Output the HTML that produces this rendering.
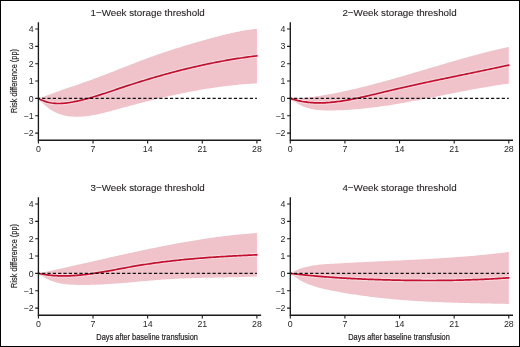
<!DOCTYPE html>
<html><head><meta charset="utf-8"><style>
html,body{margin:0;padding:0;background:#fff;}
body{width:520px;height:347px;overflow:hidden;}
svg{display:block;will-change:transform;}
text{font-family:"Liberation Sans",sans-serif;fill:#231f20;}
</style></head><body>
<svg width="520" height="347" viewBox="0 0 520 347">
<rect x="0" y="0" width="520" height="347" fill="#fff"/>

<path d="M38.4 98.40L39.9 97.92L41.4 97.42L42.9 96.91L44.4 96.39L45.9 95.86L47.4 95.32L48.9 94.77L50.4 94.22L51.9 93.67L53.4 93.11L54.9 92.55L56.4 91.99L57.9 91.44L59.4 90.88L60.9 90.34L62.4 89.79L63.9 89.26L65.4 88.73L66.9 88.21L68.4 87.69L69.9 87.18L71.4 86.67L72.9 86.16L74.4 85.66L75.9 85.15L77.4 84.64L78.9 84.14L80.4 83.63L81.9 83.11L83.4 82.60L84.9 82.08L86.4 81.55L87.9 81.02L89.4 80.48L90.9 79.94L92.4 79.40L93.9 78.84L95.4 78.29L96.9 77.73L98.4 77.17L99.9 76.60L101.4 76.03L102.9 75.46L104.4 74.88L105.9 74.30L107.4 73.72L108.9 73.14L110.4 72.55L111.9 71.97L113.4 71.38L114.9 70.79L116.4 70.20L117.9 69.61L119.4 69.02L120.9 68.43L122.4 67.84L123.9 67.25L125.4 66.66L126.9 66.07L128.4 65.48L129.9 64.89L131.4 64.31L132.9 63.73L134.4 63.15L135.9 62.57L137.4 61.99L138.9 61.42L140.4 60.85L141.9 60.28L143.4 59.72L144.9 59.16L146.4 58.61L147.9 58.06L149.4 57.51L150.9 56.97L152.4 56.43L153.9 55.90L155.4 55.37L156.9 54.84L158.4 54.32L159.9 53.81L161.4 53.29L162.9 52.78L164.4 52.28L165.9 51.78L167.4 51.28L168.9 50.78L170.4 50.29L171.9 49.81L173.4 49.32L174.9 48.84L176.4 48.37L177.9 47.89L179.4 47.42L180.9 46.96L182.4 46.49L183.9 46.03L185.4 45.58L186.9 45.12L188.4 44.67L189.9 44.23L191.4 43.78L192.9 43.34L194.4 42.90L195.9 42.47L197.4 42.03L198.9 41.60L200.4 41.18L201.9 40.75L203.4 40.33L204.9 39.91L206.4 39.49L207.9 39.08L209.4 38.67L210.9 38.26L212.4 37.85L213.9 37.45L215.4 37.05L216.9 36.65L218.4 36.26L219.9 35.87L221.4 35.49L222.9 35.11L224.4 34.73L225.9 34.37L227.4 34.01L228.9 33.65L230.4 33.31L231.9 32.97L233.4 32.64L234.9 32.32L236.4 32.00L237.9 31.70L239.4 31.40L240.9 31.12L242.4 30.85L243.9 30.58L245.4 30.33L246.9 30.09L248.4 29.86L249.9 29.65L251.4 29.45L252.9 29.26L254.4 29.08L255.9 28.92L256.9 28.82L256.9 83.37L255.9 83.42L254.4 83.51L252.9 83.59L251.4 83.68L249.9 83.78L248.4 83.89L246.9 83.99L245.4 84.11L243.9 84.23L242.4 84.35L240.9 84.48L239.4 84.62L237.9 84.76L236.4 84.91L234.9 85.06L233.4 85.21L231.9 85.38L230.4 85.54L228.9 85.71L227.4 85.89L225.9 86.07L224.4 86.26L222.9 86.45L221.4 86.64L219.9 86.84L218.4 87.05L216.9 87.26L215.4 87.47L213.9 87.69L212.4 87.92L210.9 88.14L209.4 88.38L207.9 88.61L206.4 88.85L204.9 89.10L203.4 89.35L201.9 89.60L200.4 89.86L198.9 90.12L197.4 90.39L195.9 90.66L194.4 90.93L192.9 91.21L191.4 91.49L189.9 91.77L188.4 92.06L186.9 92.36L185.4 92.65L183.9 92.95L182.4 93.26L180.9 93.57L179.4 93.88L177.9 94.19L176.4 94.51L174.9 94.83L173.4 95.15L171.9 95.48L170.4 95.81L168.9 96.15L167.4 96.49L165.9 96.83L164.4 97.17L162.9 97.52L161.4 97.87L159.9 98.22L158.4 98.58L156.9 98.93L155.4 99.30L153.9 99.66L152.4 100.03L150.9 100.40L149.4 100.77L147.9 101.14L146.4 101.52L144.9 101.90L143.4 102.28L141.9 102.67L140.4 103.06L138.9 103.45L137.4 103.84L135.9 104.23L134.4 104.63L132.9 105.03L131.4 105.43L129.9 105.83L128.4 106.23L126.9 106.64L125.4 107.05L123.9 107.46L122.4 107.87L120.9 108.29L119.4 108.70L117.9 109.12L116.4 109.54L114.9 109.95L113.4 110.37L111.9 110.78L110.4 111.19L108.9 111.59L107.4 111.98L105.9 112.37L104.4 112.75L102.9 113.11L101.4 113.47L99.9 113.81L98.4 114.15L96.9 114.46L95.4 114.76L93.9 115.05L92.4 115.31L90.9 115.56L89.4 115.79L87.9 115.99L86.4 116.17L84.9 116.33L83.4 116.47L81.9 116.58L80.4 116.66L78.9 116.71L77.4 116.74L75.9 116.73L74.4 116.69L72.9 116.62L71.4 116.52L69.9 116.38L68.4 116.20L66.9 115.97L65.4 115.70L63.9 115.37L62.4 114.99L60.9 114.55L59.4 114.05L57.9 113.48L56.4 112.84L54.9 112.13L53.4 111.34L51.9 110.47L50.4 109.52L48.9 108.47L47.4 107.34L45.9 106.11L44.4 104.78L42.9 103.35L41.4 101.81L39.9 100.16L38.4 98.40Z" fill="#f0c3cb"/>
<path d="M38.4 98.40L39.9 99.20L41.4 99.93L42.9 100.58L44.4 101.15L45.9 101.65L47.4 102.09L48.9 102.46L50.4 102.78L51.9 103.03L53.4 103.22L54.9 103.37L56.4 103.46L57.9 103.51L59.4 103.51L60.9 103.47L62.4 103.39L63.9 103.27L65.4 103.12L66.9 102.95L68.4 102.74L69.9 102.51L71.4 102.26L72.9 101.99L74.4 101.70L75.9 101.40L77.4 101.08L78.9 100.75L80.4 100.40L81.9 100.04L83.4 99.67L84.9 99.29L86.4 98.89L87.9 98.48L89.4 98.07L90.9 97.64L92.4 97.20L93.9 96.76L95.4 96.30L96.9 95.84L98.4 95.37L99.9 94.90L101.4 94.42L102.9 93.93L104.4 93.44L105.9 92.95L107.4 92.45L108.9 91.95L110.4 91.45L111.9 90.94L113.4 90.44L114.9 89.93L116.4 89.42L117.9 88.92L119.4 88.41L120.9 87.91L122.4 87.41L123.9 86.91L125.4 86.41L126.9 85.92L128.4 85.43L129.9 84.94L131.4 84.46L132.9 83.98L134.4 83.50L135.9 83.02L137.4 82.55L138.9 82.08L140.4 81.61L141.9 81.15L143.4 80.69L144.9 80.23L146.4 79.77L147.9 79.32L149.4 78.87L150.9 78.43L152.4 77.98L153.9 77.54L155.4 77.11L156.9 76.67L158.4 76.24L159.9 75.82L161.4 75.39L162.9 74.97L164.4 74.55L165.9 74.14L167.4 73.73L168.9 73.32L170.4 72.92L171.9 72.52L173.4 72.12L174.9 71.72L176.4 71.33L177.9 70.94L179.4 70.56L180.9 70.18L182.4 69.80L183.9 69.43L185.4 69.06L186.9 68.69L188.4 68.33L189.9 67.97L191.4 67.61L192.9 67.26L194.4 66.91L195.9 66.57L197.4 66.23L198.9 65.89L200.4 65.55L201.9 65.22L203.4 64.90L204.9 64.57L206.4 64.26L207.9 63.94L209.4 63.63L210.9 63.32L212.4 63.02L213.9 62.72L215.4 62.42L216.9 62.13L218.4 61.84L219.9 61.56L221.4 61.28L222.9 61.00L224.4 60.73L225.9 60.46L227.4 60.20L228.9 59.94L230.4 59.68L231.9 59.43L233.4 59.18L234.9 58.94L236.4 58.70L237.9 58.46L239.4 58.23L240.9 58.00L242.4 57.78L243.9 57.56L245.4 57.35L246.9 57.14L248.4 56.93L249.9 56.73L251.4 56.53L252.9 56.34L254.4 56.15L255.9 55.97L256.9 55.85" fill="none" stroke="#f6d9de" stroke-width="3.8" stroke-linecap="butt" stroke-linejoin="round"/>
<path d="M38.4 98.40L39.9 99.20L41.4 99.93L42.9 100.58L44.4 101.15L45.9 101.65L47.4 102.09L48.9 102.46L50.4 102.78L51.9 103.03L53.4 103.22L54.9 103.37L56.4 103.46L57.9 103.51L59.4 103.51L60.9 103.47L62.4 103.39L63.9 103.27L65.4 103.12L66.9 102.95L68.4 102.74L69.9 102.51L71.4 102.26L72.9 101.99L74.4 101.70L75.9 101.40L77.4 101.08L78.9 100.75L80.4 100.40L81.9 100.04L83.4 99.67L84.9 99.29L86.4 98.89L87.9 98.48L89.4 98.07L90.9 97.64L92.4 97.20L93.9 96.76L95.4 96.30L96.9 95.84L98.4 95.37L99.9 94.90L101.4 94.42L102.9 93.93L104.4 93.44L105.9 92.95L107.4 92.45L108.9 91.95L110.4 91.45L111.9 90.94L113.4 90.44L114.9 89.93L116.4 89.42L117.9 88.92L119.4 88.41L120.9 87.91L122.4 87.41L123.9 86.91L125.4 86.41L126.9 85.92L128.4 85.43L129.9 84.94L131.4 84.46L132.9 83.98L134.4 83.50L135.9 83.02L137.4 82.55L138.9 82.08L140.4 81.61L141.9 81.15L143.4 80.69L144.9 80.23L146.4 79.77L147.9 79.32L149.4 78.87L150.9 78.43L152.4 77.98L153.9 77.54L155.4 77.11L156.9 76.67L158.4 76.24L159.9 75.82L161.4 75.39L162.9 74.97L164.4 74.55L165.9 74.14L167.4 73.73L168.9 73.32L170.4 72.92L171.9 72.52L173.4 72.12L174.9 71.72L176.4 71.33L177.9 70.94L179.4 70.56L180.9 70.18L182.4 69.80L183.9 69.43L185.4 69.06L186.9 68.69L188.4 68.33L189.9 67.97L191.4 67.61L192.9 67.26L194.4 66.91L195.9 66.57L197.4 66.23L198.9 65.89L200.4 65.55L201.9 65.22L203.4 64.90L204.9 64.57L206.4 64.26L207.9 63.94L209.4 63.63L210.9 63.32L212.4 63.02L213.9 62.72L215.4 62.42L216.9 62.13L218.4 61.84L219.9 61.56L221.4 61.28L222.9 61.00L224.4 60.73L225.9 60.46L227.4 60.20L228.9 59.94L230.4 59.68L231.9 59.43L233.4 59.18L234.9 58.94L236.4 58.70L237.9 58.46L239.4 58.23L240.9 58.00L242.4 57.78L243.9 57.56L245.4 57.35L246.9 57.14L248.4 56.93L249.9 56.73L251.4 56.53L252.9 56.34L254.4 56.15L255.9 55.97L256.9 55.85" fill="none" stroke="#c3102e" stroke-width="1.7" stroke-linecap="round" stroke-linejoin="round"/>
<line x1="38.40" y1="98.40" x2="256.90" y2="98.40" stroke="#111" stroke-width="1.25" stroke-dasharray="3.2 2.125" stroke-dashoffset="1.58"/>
<path d="M38.40 22.30V140.20H261.10" fill="none" stroke="#1a1a1a" stroke-width="1.35"/>
<path d="M35.20 133.10H38.40M35.20 115.75H38.40M35.20 98.40H38.40M35.20 81.05H38.40M35.20 63.70H38.40M35.20 46.35H38.40M35.20 29.00H38.40M38.40 140.20V143.40M93.03 140.20V143.40M147.65 140.20V143.40M202.28 140.20V143.40M256.90 140.20V143.40" fill="none" stroke="#1a1a1a" stroke-width="1.1"/>
<text x="33.60" y="136.20" font-size="8.8" text-anchor="end">−2</text>
<text x="33.60" y="118.85" font-size="8.8" text-anchor="end">−1</text>
<text x="33.60" y="101.50" font-size="8.8" text-anchor="end">0</text>
<text x="33.60" y="84.15" font-size="8.8" text-anchor="end">1</text>
<text x="33.60" y="66.80" font-size="8.8" text-anchor="end">2</text>
<text x="33.60" y="49.45" font-size="8.8" text-anchor="end">3</text>
<text x="33.60" y="32.10" font-size="8.8" text-anchor="end">4</text>
<text x="38.40" y="151.90" font-size="8.8" text-anchor="middle">0</text>
<text x="93.03" y="151.90" font-size="8.8" text-anchor="middle">7</text>
<text x="147.65" y="151.90" font-size="8.8" text-anchor="middle">14</text>
<text x="202.28" y="151.90" font-size="8.8" text-anchor="middle">21</text>
<text x="256.90" y="151.90" font-size="8.8" text-anchor="middle">28</text>
<text x="147.65" y="15.80" font-size="9.3" text-anchor="middle" textLength="114.2" stroke="#231f20" stroke-width="0.1" lengthAdjust="spacingAndGlyphs">1−Week storage threshold</text>
<text transform="translate(16.7 81.00) rotate(-90)" x="0" y="0" font-size="9.1" text-anchor="middle" textLength="64" lengthAdjust="spacingAndGlyphs" stroke="#231f20" stroke-width="0.18">Risk difference (pp)</text>
<path d="M290.3 98.40L291.8 98.40L293.3 98.39L294.8 98.36L296.3 98.31L297.8 98.25L299.3 98.18L300.8 98.09L302.3 97.98L303.8 97.87L305.3 97.74L306.8 97.60L308.3 97.44L309.8 97.28L311.3 97.10L312.8 96.92L314.3 96.72L315.8 96.51L317.3 96.30L318.8 96.08L320.3 95.84L321.8 95.60L323.3 95.35L324.8 95.10L326.3 94.84L327.8 94.57L329.3 94.29L330.8 94.01L332.3 93.73L333.8 93.44L335.3 93.15L336.8 92.85L338.3 92.54L339.8 92.23L341.3 91.92L342.8 91.60L344.3 91.28L345.8 90.95L347.3 90.62L348.8 90.29L350.3 89.95L351.8 89.60L353.3 89.26L354.8 88.90L356.3 88.55L357.8 88.19L359.3 87.83L360.8 87.46L362.3 87.09L363.8 86.72L365.3 86.34L366.8 85.96L368.3 85.58L369.8 85.19L371.3 84.80L372.8 84.41L374.3 84.01L375.8 83.62L377.3 83.22L378.8 82.81L380.3 82.41L381.8 82.00L383.3 81.59L384.8 81.18L386.3 80.76L387.8 80.34L389.3 79.92L390.8 79.50L392.3 79.08L393.8 78.65L395.3 78.23L396.8 77.80L398.3 77.37L399.8 76.94L401.3 76.50L402.8 76.07L404.3 75.63L405.8 75.20L407.3 74.76L408.8 74.32L410.3 73.88L411.8 73.44L413.3 73.00L414.8 72.56L416.3 72.11L417.8 71.67L419.3 71.23L420.8 70.78L422.3 70.34L423.8 69.89L425.3 69.45L426.8 69.00L428.3 68.56L429.8 68.11L431.3 67.67L432.8 67.22L434.3 66.78L435.8 66.33L437.3 65.89L438.8 65.45L440.3 65.01L441.8 64.57L443.3 64.13L444.8 63.69L446.3 63.25L447.8 62.81L449.3 62.37L450.8 61.94L452.3 61.50L453.8 61.07L455.3 60.64L456.8 60.21L458.3 59.78L459.8 59.36L461.3 58.93L462.8 58.51L464.3 58.09L465.8 57.67L467.3 57.26L468.8 56.84L470.3 56.43L471.8 56.02L473.3 55.61L474.8 55.21L476.3 54.81L477.8 54.41L479.3 54.01L480.8 53.62L482.3 53.23L483.8 52.84L485.3 52.45L486.8 52.07L488.3 51.69L489.8 51.32L491.3 50.94L492.8 50.58L494.3 50.21L495.8 49.85L497.3 49.49L498.8 49.14L500.3 48.79L501.8 48.44L503.3 48.10L504.8 47.76L506.3 47.43L507.8 47.10L508.8 46.88L508.8 83.55L507.8 83.68L506.3 83.89L504.8 84.09L503.3 84.30L501.8 84.52L500.3 84.74L498.8 84.96L497.3 85.19L495.8 85.42L494.3 85.66L492.8 85.90L491.3 86.14L489.8 86.39L488.3 86.64L486.8 86.89L485.3 87.14L483.8 87.40L482.3 87.66L480.8 87.93L479.3 88.20L477.8 88.47L476.3 88.74L474.8 89.01L473.3 89.29L471.8 89.57L470.3 89.85L468.8 90.13L467.3 90.42L465.8 90.70L464.3 90.99L462.8 91.28L461.3 91.57L459.8 91.86L458.3 92.16L456.8 92.45L455.3 92.75L453.8 93.05L452.3 93.34L450.8 93.64L449.3 93.94L447.8 94.24L446.3 94.54L444.8 94.84L443.3 95.14L441.8 95.44L440.3 95.74L438.8 96.04L437.3 96.34L435.8 96.64L434.3 96.94L432.8 97.23L431.3 97.53L429.8 97.83L428.3 98.13L426.8 98.42L425.3 98.71L423.8 99.01L422.3 99.30L420.8 99.59L419.3 99.88L417.8 100.16L416.3 100.45L414.8 100.73L413.3 101.01L411.8 101.29L410.3 101.57L408.8 101.85L407.3 102.12L405.8 102.39L404.3 102.66L402.8 102.92L401.3 103.18L399.8 103.44L398.3 103.70L396.8 103.95L395.3 104.20L393.8 104.45L392.3 104.69L390.8 104.93L389.3 105.17L387.8 105.40L386.3 105.63L384.8 105.85L383.3 106.08L381.8 106.29L380.3 106.50L378.8 106.71L377.3 106.92L375.8 107.12L374.3 107.31L372.8 107.50L371.3 107.68L369.8 107.86L368.3 108.04L366.8 108.21L365.3 108.37L363.8 108.53L362.3 108.69L360.8 108.83L359.3 108.98L357.8 109.11L356.3 109.24L354.8 109.37L353.3 109.48L351.8 109.60L350.3 109.70L348.8 109.80L347.3 109.89L345.8 109.98L344.3 110.06L342.8 110.13L341.3 110.20L339.8 110.26L338.3 110.31L336.8 110.35L335.3 110.39L333.8 110.42L332.3 110.44L330.8 110.45L329.3 110.46L327.8 110.45L326.3 110.44L324.8 110.41L323.3 110.36L321.8 110.29L320.3 110.19L318.8 110.07L317.3 109.91L315.8 109.72L314.3 109.50L312.8 109.23L311.3 108.93L309.8 108.57L308.3 108.17L306.8 107.72L305.3 107.21L303.8 106.64L302.3 106.01L300.8 105.32L299.3 104.55L297.8 103.72L296.3 102.82L294.8 101.84L293.3 100.77L291.8 99.63L290.3 98.40Z" fill="#f0c3cb"/>
<path d="M290.3 98.40L291.8 98.89L293.3 99.35L294.8 99.78L296.3 100.18L297.8 100.55L299.3 100.88L300.8 101.19L302.3 101.48L303.8 101.73L305.3 101.96L306.8 102.16L308.3 102.34L309.8 102.49L311.3 102.61L312.8 102.72L314.3 102.80L315.8 102.86L317.3 102.89L318.8 102.91L320.3 102.90L321.8 102.88L323.3 102.84L324.8 102.78L326.3 102.70L327.8 102.60L329.3 102.49L330.8 102.36L332.3 102.22L333.8 102.06L335.3 101.89L336.8 101.70L338.3 101.50L339.8 101.30L341.3 101.07L342.8 100.84L344.3 100.60L345.8 100.35L347.3 100.09L348.8 99.82L350.3 99.55L351.8 99.26L353.3 98.97L354.8 98.67L356.3 98.37L357.8 98.06L359.3 97.74L360.8 97.42L362.3 97.09L363.8 96.76L365.3 96.42L366.8 96.08L368.3 95.73L369.8 95.38L371.3 95.03L372.8 94.68L374.3 94.32L375.8 93.96L377.3 93.60L378.8 93.24L380.3 92.88L381.8 92.52L383.3 92.16L384.8 91.79L386.3 91.43L387.8 91.07L389.3 90.71L390.8 90.36L392.3 90.00L393.8 89.65L395.3 89.30L396.8 88.95L398.3 88.60L399.8 88.26L401.3 87.91L402.8 87.57L404.3 87.23L405.8 86.89L407.3 86.55L408.8 86.21L410.3 85.88L411.8 85.55L413.3 85.21L414.8 84.88L416.3 84.55L417.8 84.23L419.3 83.90L420.8 83.57L422.3 83.25L423.8 82.93L425.3 82.60L426.8 82.28L428.3 81.96L429.8 81.64L431.3 81.32L432.8 81.01L434.3 80.69L435.8 80.37L437.3 80.06L438.8 79.74L440.3 79.43L441.8 79.12L443.3 78.80L444.8 78.49L446.3 78.18L447.8 77.87L449.3 77.56L450.8 77.24L452.3 76.93L453.8 76.62L455.3 76.31L456.8 76.00L458.3 75.70L459.8 75.39L461.3 75.08L462.8 74.77L464.3 74.46L465.8 74.15L467.3 73.84L468.8 73.53L470.3 73.22L471.8 72.91L473.3 72.60L474.8 72.29L476.3 71.98L477.8 71.67L479.3 71.35L480.8 71.04L482.3 70.73L483.8 70.42L485.3 70.10L486.8 69.79L488.3 69.47L489.8 69.16L491.3 68.84L492.8 68.52L494.3 68.21L495.8 67.89L497.3 67.57L498.8 67.25L500.3 66.92L501.8 66.60L503.3 66.28L504.8 65.95L506.3 65.63L507.8 65.30L508.8 65.08" fill="none" stroke="#f6d9de" stroke-width="3.8" stroke-linecap="butt" stroke-linejoin="round"/>
<path d="M290.3 98.40L291.8 98.89L293.3 99.35L294.8 99.78L296.3 100.18L297.8 100.55L299.3 100.88L300.8 101.19L302.3 101.48L303.8 101.73L305.3 101.96L306.8 102.16L308.3 102.34L309.8 102.49L311.3 102.61L312.8 102.72L314.3 102.80L315.8 102.86L317.3 102.89L318.8 102.91L320.3 102.90L321.8 102.88L323.3 102.84L324.8 102.78L326.3 102.70L327.8 102.60L329.3 102.49L330.8 102.36L332.3 102.22L333.8 102.06L335.3 101.89L336.8 101.70L338.3 101.50L339.8 101.30L341.3 101.07L342.8 100.84L344.3 100.60L345.8 100.35L347.3 100.09L348.8 99.82L350.3 99.55L351.8 99.26L353.3 98.97L354.8 98.67L356.3 98.37L357.8 98.06L359.3 97.74L360.8 97.42L362.3 97.09L363.8 96.76L365.3 96.42L366.8 96.08L368.3 95.73L369.8 95.38L371.3 95.03L372.8 94.68L374.3 94.32L375.8 93.96L377.3 93.60L378.8 93.24L380.3 92.88L381.8 92.52L383.3 92.16L384.8 91.79L386.3 91.43L387.8 91.07L389.3 90.71L390.8 90.36L392.3 90.00L393.8 89.65L395.3 89.30L396.8 88.95L398.3 88.60L399.8 88.26L401.3 87.91L402.8 87.57L404.3 87.23L405.8 86.89L407.3 86.55L408.8 86.21L410.3 85.88L411.8 85.55L413.3 85.21L414.8 84.88L416.3 84.55L417.8 84.23L419.3 83.90L420.8 83.57L422.3 83.25L423.8 82.93L425.3 82.60L426.8 82.28L428.3 81.96L429.8 81.64L431.3 81.32L432.8 81.01L434.3 80.69L435.8 80.37L437.3 80.06L438.8 79.74L440.3 79.43L441.8 79.12L443.3 78.80L444.8 78.49L446.3 78.18L447.8 77.87L449.3 77.56L450.8 77.24L452.3 76.93L453.8 76.62L455.3 76.31L456.8 76.00L458.3 75.70L459.8 75.39L461.3 75.08L462.8 74.77L464.3 74.46L465.8 74.15L467.3 73.84L468.8 73.53L470.3 73.22L471.8 72.91L473.3 72.60L474.8 72.29L476.3 71.98L477.8 71.67L479.3 71.35L480.8 71.04L482.3 70.73L483.8 70.42L485.3 70.10L486.8 69.79L488.3 69.47L489.8 69.16L491.3 68.84L492.8 68.52L494.3 68.21L495.8 67.89L497.3 67.57L498.8 67.25L500.3 66.92L501.8 66.60L503.3 66.28L504.8 65.95L506.3 65.63L507.8 65.30L508.8 65.08" fill="none" stroke="#c3102e" stroke-width="1.7" stroke-linecap="round" stroke-linejoin="round"/>
<line x1="290.30" y1="98.40" x2="508.80" y2="98.40" stroke="#111" stroke-width="1.25" stroke-dasharray="3.2 2.125" stroke-dashoffset="1.58"/>
<path d="M290.30 22.30V140.20H513.00" fill="none" stroke="#1a1a1a" stroke-width="1.35"/>
<path d="M287.10 133.10H290.30M287.10 115.75H290.30M287.10 98.40H290.30M287.10 81.05H290.30M287.10 63.70H290.30M287.10 46.35H290.30M287.10 29.00H290.30M290.30 140.20V143.40M344.93 140.20V143.40M399.55 140.20V143.40M454.18 140.20V143.40M508.80 140.20V143.40" fill="none" stroke="#1a1a1a" stroke-width="1.1"/>
<text x="285.50" y="136.20" font-size="8.8" text-anchor="end">−2</text>
<text x="285.50" y="118.85" font-size="8.8" text-anchor="end">−1</text>
<text x="285.50" y="101.50" font-size="8.8" text-anchor="end">0</text>
<text x="285.50" y="84.15" font-size="8.8" text-anchor="end">1</text>
<text x="285.50" y="66.80" font-size="8.8" text-anchor="end">2</text>
<text x="285.50" y="49.45" font-size="8.8" text-anchor="end">3</text>
<text x="285.50" y="32.10" font-size="8.8" text-anchor="end">4</text>
<text x="290.30" y="151.90" font-size="8.8" text-anchor="middle">0</text>
<text x="344.93" y="151.90" font-size="8.8" text-anchor="middle">7</text>
<text x="399.55" y="151.90" font-size="8.8" text-anchor="middle">14</text>
<text x="454.18" y="151.90" font-size="8.8" text-anchor="middle">21</text>
<text x="508.80" y="151.90" font-size="8.8" text-anchor="middle">28</text>
<text x="399.55" y="15.80" font-size="9.3" text-anchor="middle" textLength="114.2" stroke="#231f20" stroke-width="0.1" lengthAdjust="spacingAndGlyphs">2−Week storage threshold</text>
<path d="M38.4 273.40L39.9 273.09L41.4 272.77L42.9 272.45L44.4 272.13L45.9 271.81L47.4 271.49L48.9 271.17L50.4 270.85L51.9 270.52L53.4 270.20L54.9 269.87L56.4 269.54L57.9 269.21L59.4 268.88L60.9 268.55L62.4 268.22L63.9 267.89L65.4 267.55L66.9 267.22L68.4 266.88L69.9 266.55L71.4 266.21L72.9 265.87L74.4 265.54L75.9 265.20L77.4 264.86L78.9 264.52L80.4 264.18L81.9 263.84L83.4 263.50L84.9 263.16L86.4 262.82L87.9 262.48L89.4 262.14L90.9 261.80L92.4 261.46L93.9 261.12L95.4 260.77L96.9 260.43L98.4 260.09L99.9 259.75L101.4 259.41L102.9 259.07L104.4 258.73L105.9 258.39L107.4 258.05L108.9 257.71L110.4 257.37L111.9 257.04L113.4 256.70L114.9 256.36L116.4 256.03L117.9 255.69L119.4 255.35L120.9 255.02L122.4 254.69L123.9 254.35L125.4 254.02L126.9 253.69L128.4 253.36L129.9 253.03L131.4 252.70L132.9 252.38L134.4 252.05L135.9 251.73L137.4 251.40L138.9 251.08L140.4 250.76L141.9 250.44L143.4 250.12L144.9 249.80L146.4 249.49L147.9 249.17L149.4 248.86L150.9 248.55L152.4 248.24L153.9 247.93L155.4 247.63L156.9 247.32L158.4 247.02L159.9 246.72L161.4 246.42L162.9 246.12L164.4 245.83L165.9 245.53L167.4 245.24L168.9 244.95L170.4 244.67L171.9 244.38L173.4 244.10L174.9 243.82L176.4 243.54L177.9 243.26L179.4 242.99L180.9 242.72L182.4 242.45L183.9 242.18L185.4 241.92L186.9 241.66L188.4 241.40L189.9 241.14L191.4 240.89L192.9 240.64L194.4 240.39L195.9 240.15L197.4 239.90L198.9 239.66L200.4 239.43L201.9 239.19L203.4 238.96L204.9 238.74L206.4 238.51L207.9 238.29L209.4 238.07L210.9 237.86L212.4 237.65L213.9 237.44L215.4 237.23L216.9 237.03L218.4 236.83L219.9 236.64L221.4 236.45L222.9 236.26L224.4 236.08L225.9 235.90L227.4 235.72L228.9 235.55L230.4 235.38L231.9 235.21L233.4 235.05L234.9 234.89L236.4 234.74L237.9 234.59L239.4 234.44L240.9 234.30L242.4 234.16L243.9 234.03L245.4 233.90L246.9 233.77L248.4 233.65L249.9 233.54L251.4 233.43L252.9 233.32L254.4 233.21L255.9 233.11L256.9 233.05L256.9 276.49L255.9 276.53L254.4 276.59L252.9 276.65L251.4 276.71L249.9 276.77L248.4 276.82L246.9 276.87L245.4 276.92L243.9 276.97L242.4 277.01L240.9 277.05L239.4 277.09L237.9 277.13L236.4 277.17L234.9 277.21L233.4 277.24L231.9 277.28L230.4 277.31L228.9 277.34L227.4 277.37L225.9 277.40L224.4 277.43L222.9 277.46L221.4 277.49L219.9 277.52L218.4 277.54L216.9 277.57L215.4 277.60L213.9 277.63L212.4 277.66L210.9 277.69L209.4 277.72L207.9 277.75L206.4 277.78L204.9 277.81L203.4 277.84L201.9 277.88L200.4 277.91L198.9 277.95L197.4 277.99L195.9 278.03L194.4 278.07L192.9 278.12L191.4 278.16L189.9 278.21L188.4 278.26L186.9 278.32L185.4 278.37L183.9 278.43L182.4 278.49L180.9 278.55L179.4 278.62L177.9 278.69L176.4 278.76L174.9 278.84L173.4 278.92L171.9 279.00L170.4 279.09L168.9 279.18L167.4 279.27L165.9 279.37L164.4 279.47L162.9 279.58L161.4 279.68L159.9 279.80L158.4 279.91L156.9 280.03L155.4 280.15L153.9 280.27L152.4 280.39L150.9 280.52L149.4 280.65L147.9 280.78L146.4 280.91L144.9 281.04L143.4 281.17L141.9 281.31L140.4 281.44L138.9 281.57L137.4 281.71L135.9 281.84L134.4 281.98L132.9 282.11L131.4 282.24L129.9 282.38L128.4 282.51L126.9 282.64L125.4 282.76L123.9 282.89L122.4 283.02L120.9 283.14L119.4 283.26L117.9 283.38L116.4 283.49L114.9 283.60L113.4 283.71L111.9 283.82L110.4 283.92L108.9 284.02L107.4 284.12L105.9 284.21L104.4 284.29L102.9 284.38L101.4 284.45L99.9 284.53L98.4 284.59L96.9 284.66L95.4 284.71L93.9 284.77L92.4 284.81L90.9 284.85L89.4 284.89L87.9 284.91L86.4 284.93L84.9 284.95L83.4 284.95L81.9 284.95L80.4 284.94L78.9 284.93L77.4 284.91L75.9 284.87L74.4 284.83L72.9 284.77L71.4 284.69L69.9 284.60L68.4 284.48L66.9 284.34L65.4 284.17L63.9 283.97L62.4 283.74L60.9 283.47L59.4 283.17L57.9 282.82L56.4 282.43L54.9 281.99L53.4 281.51L51.9 280.97L50.4 280.38L48.9 279.73L47.4 279.03L45.9 278.26L44.4 277.43L42.9 276.53L41.4 275.56L39.9 274.52L38.4 273.40Z" fill="#f0c3cb"/>
<path d="M38.4 273.40L39.9 273.71L41.4 273.99L42.9 274.26L44.4 274.50L45.9 274.72L47.4 274.92L48.9 275.10L50.4 275.26L51.9 275.40L53.4 275.53L54.9 275.63L56.4 275.72L57.9 275.79L59.4 275.85L60.9 275.88L62.4 275.91L63.9 275.91L65.4 275.90L66.9 275.88L68.4 275.84L69.9 275.79L71.4 275.72L72.9 275.64L74.4 275.55L75.9 275.44L77.4 275.33L78.9 275.20L80.4 275.06L81.9 274.91L83.4 274.75L84.9 274.58L86.4 274.40L87.9 274.21L89.4 274.02L90.9 273.81L92.4 273.60L93.9 273.38L95.4 273.15L96.9 272.92L98.4 272.68L99.9 272.43L101.4 272.18L102.9 271.93L104.4 271.67L105.9 271.41L107.4 271.14L108.9 270.87L110.4 270.60L111.9 270.32L113.4 270.04L114.9 269.76L116.4 269.48L117.9 269.20L119.4 268.92L120.9 268.64L122.4 268.36L123.9 268.08L125.4 267.80L126.9 267.53L128.4 267.25L129.9 266.98L131.4 266.71L132.9 266.45L134.4 266.19L135.9 265.93L137.4 265.68L138.9 265.43L140.4 265.19L141.9 264.95L143.4 264.71L144.9 264.48L146.4 264.25L147.9 264.02L149.4 263.80L150.9 263.58L152.4 263.37L153.9 263.16L155.4 262.95L156.9 262.74L158.4 262.54L159.9 262.34L161.4 262.15L162.9 261.96L164.4 261.77L165.9 261.59L167.4 261.41L168.9 261.23L170.4 261.05L171.9 260.88L173.4 260.71L174.9 260.55L176.4 260.39L177.9 260.23L179.4 260.07L180.9 259.91L182.4 259.76L183.9 259.61L185.4 259.47L186.9 259.32L188.4 259.18L189.9 259.04L191.4 258.91L192.9 258.78L194.4 258.65L195.9 258.52L197.4 258.39L198.9 258.27L200.4 258.15L201.9 258.03L203.4 257.91L204.9 257.79L206.4 257.68L207.9 257.57L209.4 257.46L210.9 257.36L212.4 257.25L213.9 257.15L215.4 257.05L216.9 256.95L218.4 256.85L219.9 256.75L221.4 256.66L222.9 256.57L224.4 256.48L225.9 256.39L227.4 256.30L228.9 256.22L230.4 256.13L231.9 256.05L233.4 255.97L234.9 255.88L236.4 255.81L237.9 255.73L239.4 255.65L240.9 255.58L242.4 255.50L243.9 255.43L245.4 255.36L246.9 255.28L248.4 255.21L249.9 255.14L251.4 255.08L252.9 255.01L254.4 254.94L255.9 254.87L256.9 254.83" fill="none" stroke="#f6d9de" stroke-width="3.8" stroke-linecap="butt" stroke-linejoin="round"/>
<path d="M38.4 273.40L39.9 273.71L41.4 273.99L42.9 274.26L44.4 274.50L45.9 274.72L47.4 274.92L48.9 275.10L50.4 275.26L51.9 275.40L53.4 275.53L54.9 275.63L56.4 275.72L57.9 275.79L59.4 275.85L60.9 275.88L62.4 275.91L63.9 275.91L65.4 275.90L66.9 275.88L68.4 275.84L69.9 275.79L71.4 275.72L72.9 275.64L74.4 275.55L75.9 275.44L77.4 275.33L78.9 275.20L80.4 275.06L81.9 274.91L83.4 274.75L84.9 274.58L86.4 274.40L87.9 274.21L89.4 274.02L90.9 273.81L92.4 273.60L93.9 273.38L95.4 273.15L96.9 272.92L98.4 272.68L99.9 272.43L101.4 272.18L102.9 271.93L104.4 271.67L105.9 271.41L107.4 271.14L108.9 270.87L110.4 270.60L111.9 270.32L113.4 270.04L114.9 269.76L116.4 269.48L117.9 269.20L119.4 268.92L120.9 268.64L122.4 268.36L123.9 268.08L125.4 267.80L126.9 267.53L128.4 267.25L129.9 266.98L131.4 266.71L132.9 266.45L134.4 266.19L135.9 265.93L137.4 265.68L138.9 265.43L140.4 265.19L141.9 264.95L143.4 264.71L144.9 264.48L146.4 264.25L147.9 264.02L149.4 263.80L150.9 263.58L152.4 263.37L153.9 263.16L155.4 262.95L156.9 262.74L158.4 262.54L159.9 262.34L161.4 262.15L162.9 261.96L164.4 261.77L165.9 261.59L167.4 261.41L168.9 261.23L170.4 261.05L171.9 260.88L173.4 260.71L174.9 260.55L176.4 260.39L177.9 260.23L179.4 260.07L180.9 259.91L182.4 259.76L183.9 259.61L185.4 259.47L186.9 259.32L188.4 259.18L189.9 259.04L191.4 258.91L192.9 258.78L194.4 258.65L195.9 258.52L197.4 258.39L198.9 258.27L200.4 258.15L201.9 258.03L203.4 257.91L204.9 257.79L206.4 257.68L207.9 257.57L209.4 257.46L210.9 257.36L212.4 257.25L213.9 257.15L215.4 257.05L216.9 256.95L218.4 256.85L219.9 256.75L221.4 256.66L222.9 256.57L224.4 256.48L225.9 256.39L227.4 256.30L228.9 256.22L230.4 256.13L231.9 256.05L233.4 255.97L234.9 255.88L236.4 255.81L237.9 255.73L239.4 255.65L240.9 255.58L242.4 255.50L243.9 255.43L245.4 255.36L246.9 255.28L248.4 255.21L249.9 255.14L251.4 255.08L252.9 255.01L254.4 254.94L255.9 254.87L256.9 254.83" fill="none" stroke="#c3102e" stroke-width="1.7" stroke-linecap="round" stroke-linejoin="round"/>
<line x1="38.40" y1="273.40" x2="256.90" y2="273.40" stroke="#111" stroke-width="1.25" stroke-dasharray="3.2 2.125" stroke-dashoffset="1.58"/>
<path d="M38.40 197.30V315.20H261.10" fill="none" stroke="#1a1a1a" stroke-width="1.35"/>
<path d="M35.20 308.10H38.40M35.20 290.75H38.40M35.20 273.40H38.40M35.20 256.05H38.40M35.20 238.70H38.40M35.20 221.35H38.40M35.20 204.00H38.40M38.40 315.20V318.40M93.03 315.20V318.40M147.65 315.20V318.40M202.28 315.20V318.40M256.90 315.20V318.40" fill="none" stroke="#1a1a1a" stroke-width="1.1"/>
<text x="33.60" y="311.20" font-size="8.8" text-anchor="end">−2</text>
<text x="33.60" y="293.85" font-size="8.8" text-anchor="end">−1</text>
<text x="33.60" y="276.50" font-size="8.8" text-anchor="end">0</text>
<text x="33.60" y="259.15" font-size="8.8" text-anchor="end">1</text>
<text x="33.60" y="241.80" font-size="8.8" text-anchor="end">2</text>
<text x="33.60" y="224.45" font-size="8.8" text-anchor="end">3</text>
<text x="33.60" y="207.10" font-size="8.8" text-anchor="end">4</text>
<text x="38.40" y="326.90" font-size="8.8" text-anchor="middle">0</text>
<text x="93.03" y="326.90" font-size="8.8" text-anchor="middle">7</text>
<text x="147.65" y="326.90" font-size="8.8" text-anchor="middle">14</text>
<text x="202.28" y="326.90" font-size="8.8" text-anchor="middle">21</text>
<text x="256.90" y="326.90" font-size="8.8" text-anchor="middle">28</text>
<text x="147.65" y="190.80" font-size="9.3" text-anchor="middle" textLength="114.2" stroke="#231f20" stroke-width="0.1" lengthAdjust="spacingAndGlyphs">3−Week storage threshold</text>
<text x="147.15" y="340.00" font-size="9.4" text-anchor="middle" textLength="101.6" lengthAdjust="spacingAndGlyphs" stroke="#231f20" stroke-width="0.22">Days after baseline transfusion</text>
<text transform="translate(16.7 256.00) rotate(-90)" x="0" y="0" font-size="9.1" text-anchor="middle" textLength="64" lengthAdjust="spacingAndGlyphs" stroke="#231f20" stroke-width="0.18">Risk difference (pp)</text>
<path d="M290.3 273.40L291.8 272.55L293.3 271.76L294.8 271.03L296.3 270.34L297.8 269.70L299.3 269.11L300.8 268.57L302.3 268.07L303.8 267.61L305.3 267.18L306.8 266.80L308.3 266.45L309.8 266.13L311.3 265.84L312.8 265.57L314.3 265.34L315.8 265.13L317.3 264.93L318.8 264.76L320.3 264.61L321.8 264.47L323.3 264.34L324.8 264.23L326.3 264.12L327.8 264.02L329.3 263.93L330.8 263.83L332.3 263.74L333.8 263.65L335.3 263.56L336.8 263.47L338.3 263.39L339.8 263.30L341.3 263.22L342.8 263.13L344.3 263.05L345.8 262.97L347.3 262.89L348.8 262.81L350.3 262.73L351.8 262.65L353.3 262.57L354.8 262.50L356.3 262.42L357.8 262.35L359.3 262.27L360.8 262.20L362.3 262.13L363.8 262.05L365.3 261.98L366.8 261.91L368.3 261.84L369.8 261.77L371.3 261.70L372.8 261.63L374.3 261.56L375.8 261.49L377.3 261.42L378.8 261.35L380.3 261.28L381.8 261.21L383.3 261.14L384.8 261.07L386.3 261.00L387.8 260.93L389.3 260.87L390.8 260.80L392.3 260.73L393.8 260.66L395.3 260.59L396.8 260.52L398.3 260.45L399.8 260.38L401.3 260.31L402.8 260.24L404.3 260.16L405.8 260.09L407.3 260.02L408.8 259.95L410.3 259.87L411.8 259.80L413.3 259.72L414.8 259.65L416.3 259.57L417.8 259.49L419.3 259.42L420.8 259.34L422.3 259.26L423.8 259.18L425.3 259.09L426.8 259.01L428.3 258.93L429.8 258.84L431.3 258.76L432.8 258.67L434.3 258.58L435.8 258.49L437.3 258.40L438.8 258.31L440.3 258.22L441.8 258.12L443.3 258.03L444.8 257.93L446.3 257.83L447.8 257.73L449.3 257.63L450.8 257.53L452.3 257.42L453.8 257.31L455.3 257.21L456.8 257.10L458.3 256.98L459.8 256.87L461.3 256.75L462.8 256.64L464.3 256.52L465.8 256.40L467.3 256.27L468.8 256.15L470.3 256.02L471.8 255.89L473.3 255.76L474.8 255.63L476.3 255.49L477.8 255.35L479.3 255.21L480.8 255.07L482.3 254.93L483.8 254.78L485.3 254.63L486.8 254.48L488.3 254.32L489.8 254.17L491.3 254.01L492.8 253.84L494.3 253.68L495.8 253.51L497.3 253.34L498.8 253.17L500.3 252.99L501.8 252.81L503.3 252.63L504.8 252.45L506.3 252.26L507.8 252.07L508.8 251.94L508.8 303.93L507.8 303.91L506.3 303.88L504.8 303.85L503.3 303.82L501.8 303.80L500.3 303.77L498.8 303.74L497.3 303.71L495.8 303.68L494.3 303.66L492.8 303.63L491.3 303.60L489.8 303.57L488.3 303.54L486.8 303.51L485.3 303.48L483.8 303.45L482.3 303.42L480.8 303.39L479.3 303.36L477.8 303.33L476.3 303.29L474.8 303.26L473.3 303.23L471.8 303.19L470.3 303.16L468.8 303.12L467.3 303.08L465.8 303.05L464.3 303.01L462.8 302.97L461.3 302.92L459.8 302.88L458.3 302.84L456.8 302.79L455.3 302.75L453.8 302.70L452.3 302.65L450.8 302.60L449.3 302.55L447.8 302.50L446.3 302.44L444.8 302.39L443.3 302.33L441.8 302.27L440.3 302.21L438.8 302.15L437.3 302.09L435.8 302.02L434.3 301.95L432.8 301.88L431.3 301.81L429.8 301.74L428.3 301.66L426.8 301.59L425.3 301.51L423.8 301.42L422.3 301.34L420.8 301.26L419.3 301.17L417.8 301.08L416.3 300.98L414.8 300.89L413.3 300.79L411.8 300.69L410.3 300.59L408.8 300.48L407.3 300.37L405.8 300.26L404.3 300.15L402.8 300.03L401.3 299.91L399.8 299.79L398.3 299.67L396.8 299.54L395.3 299.41L393.8 299.28L392.3 299.14L390.8 299.00L389.3 298.86L387.8 298.71L386.3 298.56L384.8 298.41L383.3 298.26L381.8 298.10L380.3 297.93L378.8 297.77L377.3 297.60L375.8 297.43L374.3 297.25L372.8 297.07L371.3 296.89L369.8 296.70L368.3 296.51L366.8 296.31L365.3 296.11L363.8 295.91L362.3 295.71L360.8 295.49L359.3 295.28L357.8 295.06L356.3 294.84L354.8 294.61L353.3 294.38L351.8 294.15L350.3 293.91L348.8 293.66L347.3 293.42L345.8 293.16L344.3 292.91L342.8 292.64L341.3 292.38L339.8 292.11L338.3 291.83L336.8 291.55L335.3 291.27L333.8 290.98L332.3 290.69L330.8 290.39L329.3 290.08L327.8 289.77L326.3 289.46L324.8 289.13L323.3 288.79L321.8 288.43L320.3 288.06L318.8 287.66L317.3 287.25L315.8 286.81L314.3 286.34L312.8 285.85L311.3 285.32L309.8 284.76L308.3 284.17L306.8 283.53L305.3 282.86L303.8 282.14L302.3 281.38L300.8 280.57L299.3 279.71L297.8 278.80L296.3 277.84L294.8 276.82L293.3 275.74L291.8 274.60L290.3 273.40Z" fill="#f0c3cb"/>
<path d="M290.3 273.40L291.8 273.58L293.3 273.75L294.8 273.93L296.3 274.09L297.8 274.26L299.3 274.42L300.8 274.58L302.3 274.74L303.8 274.90L305.3 275.05L306.8 275.20L308.3 275.34L309.8 275.49L311.3 275.63L312.8 275.77L314.3 275.90L315.8 276.04L317.3 276.17L318.8 276.30L320.3 276.42L321.8 276.55L323.3 276.67L324.8 276.79L326.3 276.90L327.8 277.02L329.3 277.13L330.8 277.24L332.3 277.34L333.8 277.45L335.3 277.55L336.8 277.65L338.3 277.75L339.8 277.84L341.3 277.94L342.8 278.03L344.3 278.12L345.8 278.21L347.3 278.29L348.8 278.38L350.3 278.46L351.8 278.54L353.3 278.61L354.8 278.69L356.3 278.76L357.8 278.83L359.3 278.90L360.8 278.97L362.3 279.04L363.8 279.10L365.3 279.17L366.8 279.23L368.3 279.29L369.8 279.35L371.3 279.40L372.8 279.46L374.3 279.51L375.8 279.56L377.3 279.61L378.8 279.66L380.3 279.71L381.8 279.76L383.3 279.80L384.8 279.84L386.3 279.88L387.8 279.93L389.3 279.96L390.8 280.00L392.3 280.04L393.8 280.07L395.3 280.11L396.8 280.14L398.3 280.17L399.8 280.20L401.3 280.23L402.8 280.26L404.3 280.28L405.8 280.31L407.3 280.33L408.8 280.35L410.3 280.37L411.8 280.39L413.3 280.41L414.8 280.43L416.3 280.44L417.8 280.45L419.3 280.46L420.8 280.47L422.3 280.48L423.8 280.49L425.3 280.49L426.8 280.50L428.3 280.50L429.8 280.50L431.3 280.50L432.8 280.49L434.3 280.49L435.8 280.48L437.3 280.47L438.8 280.46L440.3 280.45L441.8 280.44L443.3 280.42L444.8 280.41L446.3 280.39L447.8 280.37L449.3 280.34L450.8 280.32L452.3 280.29L453.8 280.26L455.3 280.23L456.8 280.20L458.3 280.17L459.8 280.13L461.3 280.09L462.8 280.05L464.3 280.01L465.8 279.97L467.3 279.92L468.8 279.87L470.3 279.82L471.8 279.77L473.3 279.72L474.8 279.66L476.3 279.60L477.8 279.54L479.3 279.48L480.8 279.42L482.3 279.35L483.8 279.28L485.3 279.21L486.8 279.13L488.3 279.06L489.8 278.98L491.3 278.90L492.8 278.82L494.3 278.73L495.8 278.65L497.3 278.56L498.8 278.47L500.3 278.37L501.8 278.27L503.3 278.18L504.8 278.07L506.3 277.97L507.8 277.86L508.8 277.79" fill="none" stroke="#f6d9de" stroke-width="3.8" stroke-linecap="butt" stroke-linejoin="round"/>
<path d="M290.3 273.40L291.8 273.58L293.3 273.75L294.8 273.93L296.3 274.09L297.8 274.26L299.3 274.42L300.8 274.58L302.3 274.74L303.8 274.90L305.3 275.05L306.8 275.20L308.3 275.34L309.8 275.49L311.3 275.63L312.8 275.77L314.3 275.90L315.8 276.04L317.3 276.17L318.8 276.30L320.3 276.42L321.8 276.55L323.3 276.67L324.8 276.79L326.3 276.90L327.8 277.02L329.3 277.13L330.8 277.24L332.3 277.34L333.8 277.45L335.3 277.55L336.8 277.65L338.3 277.75L339.8 277.84L341.3 277.94L342.8 278.03L344.3 278.12L345.8 278.21L347.3 278.29L348.8 278.38L350.3 278.46L351.8 278.54L353.3 278.61L354.8 278.69L356.3 278.76L357.8 278.83L359.3 278.90L360.8 278.97L362.3 279.04L363.8 279.10L365.3 279.17L366.8 279.23L368.3 279.29L369.8 279.35L371.3 279.40L372.8 279.46L374.3 279.51L375.8 279.56L377.3 279.61L378.8 279.66L380.3 279.71L381.8 279.76L383.3 279.80L384.8 279.84L386.3 279.88L387.8 279.93L389.3 279.96L390.8 280.00L392.3 280.04L393.8 280.07L395.3 280.11L396.8 280.14L398.3 280.17L399.8 280.20L401.3 280.23L402.8 280.26L404.3 280.28L405.8 280.31L407.3 280.33L408.8 280.35L410.3 280.37L411.8 280.39L413.3 280.41L414.8 280.43L416.3 280.44L417.8 280.45L419.3 280.46L420.8 280.47L422.3 280.48L423.8 280.49L425.3 280.49L426.8 280.50L428.3 280.50L429.8 280.50L431.3 280.50L432.8 280.49L434.3 280.49L435.8 280.48L437.3 280.47L438.8 280.46L440.3 280.45L441.8 280.44L443.3 280.42L444.8 280.41L446.3 280.39L447.8 280.37L449.3 280.34L450.8 280.32L452.3 280.29L453.8 280.26L455.3 280.23L456.8 280.20L458.3 280.17L459.8 280.13L461.3 280.09L462.8 280.05L464.3 280.01L465.8 279.97L467.3 279.92L468.8 279.87L470.3 279.82L471.8 279.77L473.3 279.72L474.8 279.66L476.3 279.60L477.8 279.54L479.3 279.48L480.8 279.42L482.3 279.35L483.8 279.28L485.3 279.21L486.8 279.13L488.3 279.06L489.8 278.98L491.3 278.90L492.8 278.82L494.3 278.73L495.8 278.65L497.3 278.56L498.8 278.47L500.3 278.37L501.8 278.27L503.3 278.18L504.8 278.07L506.3 277.97L507.8 277.86L508.8 277.79" fill="none" stroke="#c3102e" stroke-width="1.7" stroke-linecap="round" stroke-linejoin="round"/>
<line x1="290.30" y1="273.40" x2="508.80" y2="273.40" stroke="#111" stroke-width="1.25" stroke-dasharray="3.2 2.125" stroke-dashoffset="1.58"/>
<path d="M290.30 197.30V315.20H513.00" fill="none" stroke="#1a1a1a" stroke-width="1.35"/>
<path d="M287.10 308.10H290.30M287.10 290.75H290.30M287.10 273.40H290.30M287.10 256.05H290.30M287.10 238.70H290.30M287.10 221.35H290.30M287.10 204.00H290.30M290.30 315.20V318.40M344.93 315.20V318.40M399.55 315.20V318.40M454.18 315.20V318.40M508.80 315.20V318.40" fill="none" stroke="#1a1a1a" stroke-width="1.1"/>
<text x="285.50" y="311.20" font-size="8.8" text-anchor="end">−2</text>
<text x="285.50" y="293.85" font-size="8.8" text-anchor="end">−1</text>
<text x="285.50" y="276.50" font-size="8.8" text-anchor="end">0</text>
<text x="285.50" y="259.15" font-size="8.8" text-anchor="end">1</text>
<text x="285.50" y="241.80" font-size="8.8" text-anchor="end">2</text>
<text x="285.50" y="224.45" font-size="8.8" text-anchor="end">3</text>
<text x="285.50" y="207.10" font-size="8.8" text-anchor="end">4</text>
<text x="290.30" y="326.90" font-size="8.8" text-anchor="middle">0</text>
<text x="344.93" y="326.90" font-size="8.8" text-anchor="middle">7</text>
<text x="399.55" y="326.90" font-size="8.8" text-anchor="middle">14</text>
<text x="454.18" y="326.90" font-size="8.8" text-anchor="middle">21</text>
<text x="508.80" y="326.90" font-size="8.8" text-anchor="middle">28</text>
<text x="399.55" y="190.80" font-size="9.3" text-anchor="middle" textLength="114.2" stroke="#231f20" stroke-width="0.1" lengthAdjust="spacingAndGlyphs">4−Week storage threshold</text>
<text x="399.05" y="340.00" font-size="9.4" text-anchor="middle" textLength="101.6" lengthAdjust="spacingAndGlyphs" stroke="#231f20" stroke-width="0.22">Days after baseline transfusion</text>
<rect x="0.5" y="0.5" width="519" height="346" fill="none" stroke="#000" stroke-width="1"/>
</svg>
</body></html>
